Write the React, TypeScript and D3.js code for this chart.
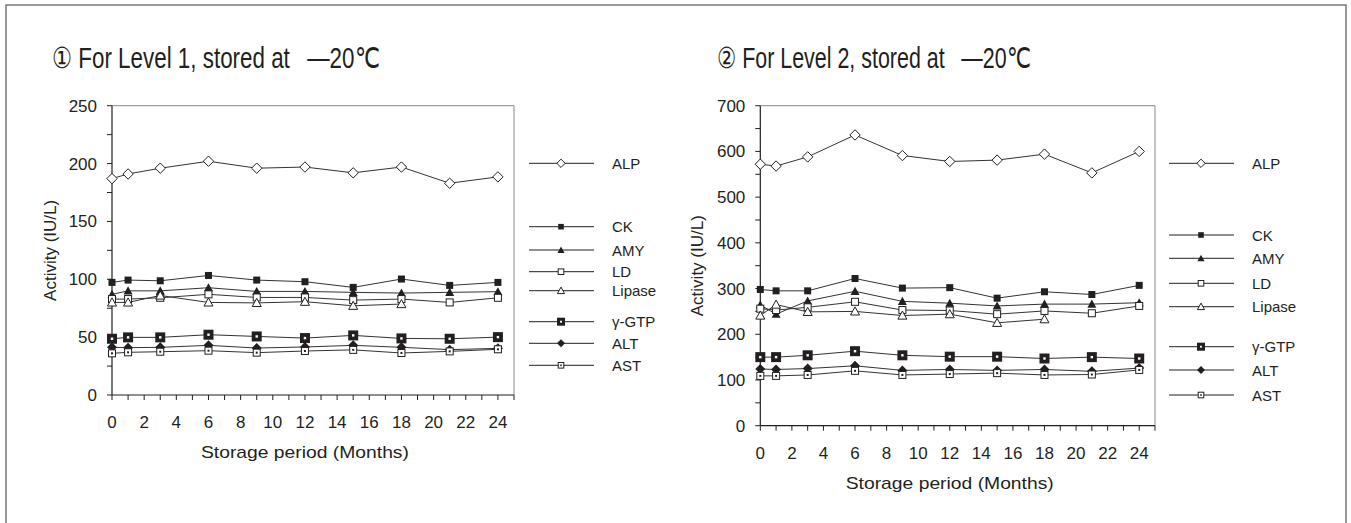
import React from "react";
import * as d3 from "d3";

// ---------- data ----------
const months = [0, 1, 3, 6, 9, 12, 15, 18, 21, 24];
const lipaseMonths = [0, 1, 3, 6, 9, 12, 15, 18];
const seriesNames = ["ALP", "CK", "AMY", "LD", "Lipase", "γ-GTP", "ALT", "AST"];
const xTickLabels = [0, 2, 4, 6, 8, 10, 12, 14, 16, 18, 20, 22, 24];

// Level 1
const alp1 = [187, 191, 196, 202, 196, 197, 192, 197, 183, 188.5];
const ck1 = [97.3, 99.3, 98.7, 103.3, 99.3, 97.9, 93, 100.2, 94.7, 97.3];
const amy1 = [87, 90, 90, 92.7, 89.5, 89.5, 88.7, 88.1, 88.7, 89.3];
const ld1 = [82.9, 82.9, 84, 87, 84.3, 84.3, 82, 82.9, 80, 84];
const lipase1 = [80, 80, 86, 80, 79.6, 80.6, 77.1, 78.6];
const gtp1 = [48.6, 49.8, 49.8, 52.1, 50.6, 49.2, 51.5, 48.9, 48.6, 50];
const alt1 = [41.2, 40.9, 41.2, 42.9, 40.6, 41.5, 42.9, 41.2, 39.2, 40.3];
const ast1 = [36, 36.9, 37.4, 38.3, 36.6, 38, 39, 36.3, 37.7, 39.5];

// Level 2
const alp2 = [572, 568, 588, 636, 591, 578, 581, 594, 553, 600];
const ck2 = [298, 295, 295, 322, 301, 302, 279, 293, 287, 307];
const amy2 = [264, 244, 273, 294, 272, 268, 262, 266, 266, 269];
const ld2 = [256, 253, 259, 271, 253, 252, 244, 251, 246, 262];
const lipase2 = [241, 265, 249, 250, 241, 244, 225, 233];
const gtp2 = [150, 150, 154, 163, 154, 151, 151, 147, 150, 147];
const alt2 = [124, 123, 125, 131, 121, 123, 121, 123, 119, 126];
const ast2 = [109, 109, 111, 120, 111, 113, 115, 111, 112, 122];

const level1Values = [alp1, ck1, amy1, ld1, lipase1, gtp1, alt1, ast1];
const level2Values = [alp2, ck2, amy2, ld2, lipase2, gtp2, alt2, ast2];
const markerTypes = ["diamondOpen", "square", "triangle", "squareOpen", "triangleOpen", "gtp", "diamond", "ast"];

// ---------- style ----------
const FONT = "'Liberation Sans', Arial, sans-serif";
const INK = "#231f20";
const LINE = "#333";

type Layout = {
  title: string;
  titleX: number;
  titleW: number;
  x0: number;
  x1: number;
  yTop: number;
  yBot: number;
  yMax: number;
  yMajor: number;
  yMinor: number;
  yLabelX: number;
  legendY: number[];
  legendX0: number;
};

const layouts: Layout[] = [
  {
    title: "① For Level 1, stored at \u2002—20℃",
    titleX: 52,
    titleW: 328,
    x0: 112,
    x1: 514,
    yTop: 105.7,
    yBot: 395,
    yMax: 250,
    yMajor: 50,
    yMinor: 25,
    yLabelX: 56,
    legendY: [163.3, 226.7, 250, 271.7, 290.7, 321.7, 343.3, 365.3],
    legendX0: 529,
  },
  {
    title: "② For Level 2, stored at \u2002—20℃",
    titleX: 717,
    titleW: 314,
    x0: 760.3,
    x1: 1155,
    yTop: 105.7,
    yBot: 425.7,
    yMax: 700,
    yMajor: 100,
    yMinor: 50,
    yLabelX: 703,
    legendY: [163.3, 235, 258.3, 283.3, 306.7, 346.7, 370, 395],
    legendX0: 1169,
  },
];

function Marker({ type, x, y, s = 1 }: { type: string; x: number; y: number; s?: number }) {
  const k = s;
  switch (type) {
    case "diamondOpen": {
      const r = 5.2 * k;
      return <path d={`M${x},${y - r}L${x + r},${y}L${x},${y + r}L${x - r},${y}Z`} fill="#fff" stroke={INK} strokeWidth={1} />;
    }
    case "diamond": {
      const r = 5 * k;
      return <path d={`M${x},${y - r}L${x + r},${y}L${x},${y + r}L${x - r},${y}Z`} fill={INK} />;
    }
    case "square": {
      const a = 7 * k;
      return <rect x={x - a / 2} y={y - a / 2} width={a} height={a} fill={INK} />;
    }
    case "squareOpen": {
      const a = 7 * k;
      return <rect x={x - a / 2} y={y - a / 2} width={a} height={a} fill="#fff" stroke={INK} strokeWidth={1} />;
    }
    case "triangle": {
      const r = 4.5 * k;
      return <path d={`M${x},${y - r}L${x + r},${y + r * 0.8}L${x - r},${y + r * 0.8}Z`} fill={INK} />;
    }
    case "triangleOpen": {
      const r = 4.5 * k;
      return <path d={`M${x},${y - r}L${x + r},${y + r * 0.8}L${x - r},${y + r * 0.8}Z`} fill="#fff" stroke={INK} strokeWidth={1} />;
    }
    case "gtp": {
      const a = 10 * k;
      const b = 2.4 * k;
      return (
        <g>
          <rect x={x - a / 2} y={y - a / 2} width={a} height={a} fill={INK} />
          <rect x={x - b / 2} y={y - b / 2} width={b} height={b} fill="#fff" />
        </g>
      );
    }
    case "ast": {
      const a = 7 * k;
      const b = 2 * k;
      return (
        <g>
          <rect x={x - a / 2} y={y - a / 2} width={a} height={a} fill="#fff" stroke={INK} strokeWidth={1} />
          <rect x={x - b / 2} y={y - b / 2} width={b} height={b} fill={INK} />
        </g>
      );
    }
    default:
      return null;
  }
}

function Panel({ L, values }: { L: Layout; values: number[][] }) {
  const x = d3.scaleLinear().domain([0, 25]).range([L.x0, L.x1]);
  const y = d3.scaleLinear().domain([0, L.yMax]).range([L.yBot, L.yTop]);
  const line = d3
    .line<[number, number]>()
    .x((d) => x(d[0]))
    .y((d) => y(d[1]));

  const yMajors = d3.range(0, L.yMax + 0.001, L.yMajor);
  const yMinors = d3.range(0, L.yMax + 0.001, L.yMinor);
  const xTicks = d3.range(0, 26, 1);

  return (
    <g fontFamily={FONT} fill={INK}>
      {/* title */}
      <text x={L.titleX} y={68} fontSize={29} textLength={L.titleW} lengthAdjust="spacingAndGlyphs" fill={INK}>
        {L.title}
      </text>

      {/* plot box */}
      <line x1={x(0)} x2={x(25)} y1={L.yTop} y2={L.yTop} stroke="#888" strokeWidth={1} />
      <line x1={x(25)} x2={x(25)} y1={L.yTop} y2={L.yBot} stroke="#888" strokeWidth={1} />
      <line x1={x(0)} x2={x(0)} y1={L.yTop} y2={L.yBot} stroke={INK} strokeWidth={1.2} />
      <line x1={x(0)} x2={x(25)} y1={L.yBot} y2={L.yBot} stroke={INK} strokeWidth={1.2} />

      {/* y ticks */}
      {yMinors.map((v) => (
        <line key={"ym" + v} x1={x(0) - 5} x2={x(0)} y1={y(v)} y2={y(v)} stroke={INK} strokeWidth={1} />
      ))}
      {yMajors.map((v) => (
        <text key={"yl" + v} x={x(0) - 15} y={y(v) + 6} fontSize={17} textAnchor="end">
          {v}
        </text>
      ))}

      {/* x ticks */}
      {xTicks.map((v) => (
        <line key={"xt" + v} x1={x(v)} x2={x(v)} y1={L.yBot} y2={L.yBot + 5} stroke={INK} strokeWidth={1} />
      ))}
      {xTickLabels.map((v) => (
        <text key={"xl" + v} x={x(v)} y={L.yBot + 33} fontSize={17} textAnchor="middle">
          {v}
        </text>
      ))}

      {/* axis titles */}
      <text x={(L.x0 + x(24)) / 2} y={L.yBot + 63} fontSize={17} textAnchor="middle" textLength={208} lengthAdjust="spacingAndGlyphs">
        Storage period (Months)
      </text>
      <text
        transform={`translate(${L.yLabelX},${(L.yTop + L.yBot) / 2}) rotate(-90)`}
        fontSize={17}
        textAnchor="middle"
      >
        Activity (IU/L)
      </text>

      {/* series lines */}
      {values.map((vals, i) => {
        const ms = vals.length === months.length ? months : lipaseMonths;
        const pts = vals.map((v, j) => [ms[j], v] as [number, number]);
        return <path key={"l" + i} d={line(pts) || ""} fill="none" stroke={LINE} strokeWidth={1} />;
      })}
      {/* markers */}
      {values.map((vals, i) => {
        const ms = vals.length === months.length ? months : lipaseMonths;
        return (
          <g key={"m" + i}>
            {vals.map((v, j) => (
              <Marker key={j} type={markerTypes[i]} x={x(ms[j])} y={y(v)} />
            ))}
          </g>
        );
      })}

      {/* legend */}
      {seriesNames.map((name, i) => {
        const ly = L.legendY[i];
        const lx0 = L.legendX0;
        return (
          <g key={"lg" + i}>
            <line x1={lx0} x2={lx0 + 65} y1={ly} y2={ly} stroke={INK} strokeWidth={1} />
            <Marker type={markerTypes[i]} x={lx0 + 32} y={ly} s={0.8} />
            <text x={lx0 + 83} y={ly + 5.5} fontSize={15}>
              {name}
            </text>
          </g>
        );
      })}
    </g>
  );
}

export default function App() {
  return (
    <svg
      width={1351}
      height={523}
      style={{ position: "absolute", left: 0, top: 0, display: "block", background: "#fff" }}
    >
      <rect x={0} y={0} width={1351} height={523} fill="#fff" />
      {/* outer frame */}
      <path d="M6,523 L6,5 L1346,5 L1346,523" fill="none" stroke="#777" strokeWidth={1.5} />
      <Panel L={layouts[0]} values={level1Values} />
      <Panel L={layouts[1]} values={level2Values} />
    </svg>
  );
}
